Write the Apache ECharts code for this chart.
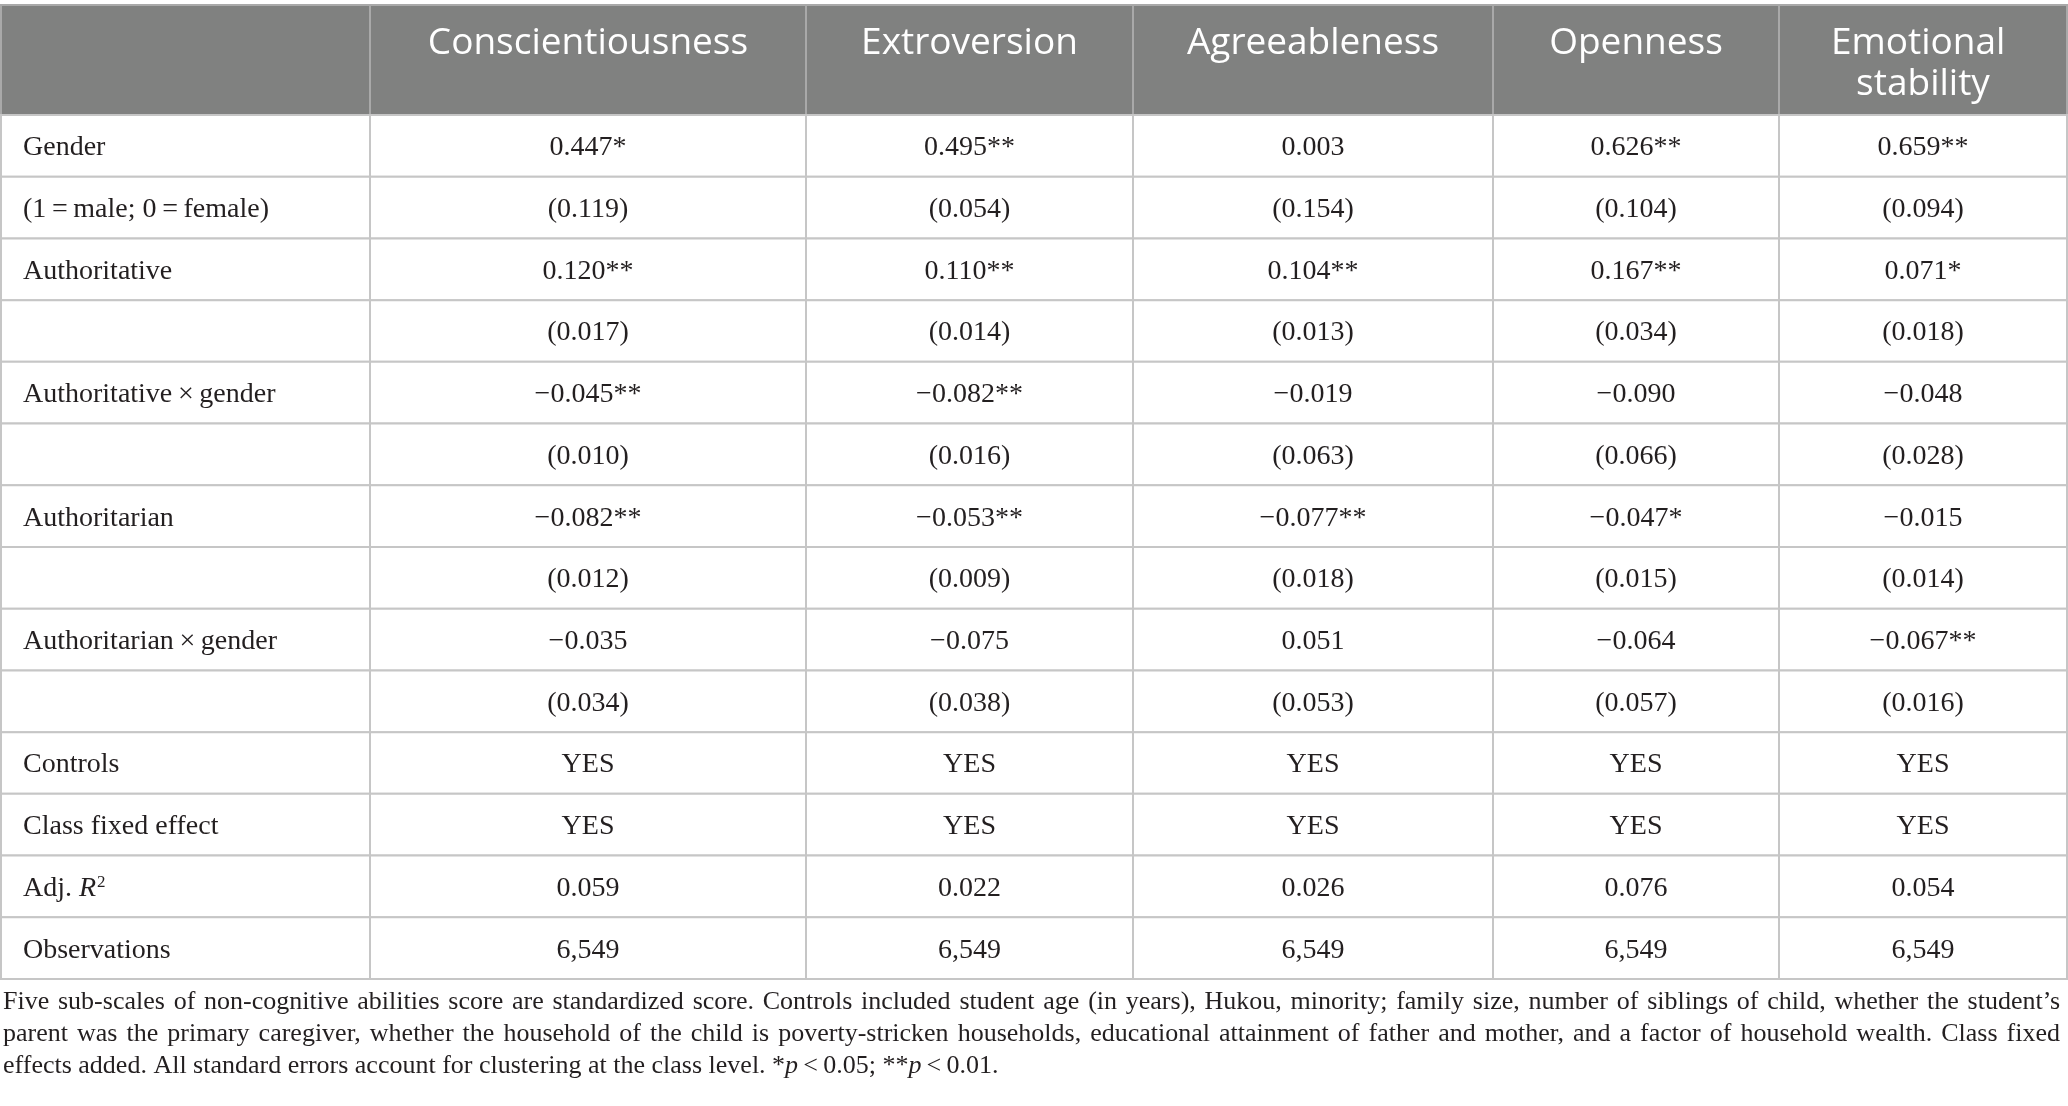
<!DOCTYPE html>
<html>
<head>
<meta charset="utf-8">
<title>Non-cognitive abilities regression table</title>
<script src="https://cdn.jsdelivr.net/npm/echarts@6/dist/echarts.min.js"></script>
<style>
  html, body { margin: 0; padding: 0; background: #fff; }
  #chart { width: 2068px; height: 1106px; }
</style>
</head>
<body>
<div id="chart"></div>
<script>
// Table data
const columns = ['Conscientiousness', 'Extroversion', 'Agreeableness', 'Openness', 'Emotional stability'];
const rowLabels = [
    'Gender',
    '(1\u2009=\u2009male; 0\u2009=\u2009female)',
    'Authoritative',
    '',
    'Authoritative\u2009×\u2009gender',
    '',
    'Authoritarian',
    '',
    'Authoritarian\u2009×\u2009gender',
    '',
    'Controls',
    'Class fixed effect',
    'Adj. {it|R}{sup|2}',
    'Observations'
];
const conscientiousness = ['0.447*', '(0.119)', '0.120**', '(0.017)', '\u22120.045**', '(0.010)', '\u22120.082**', '(0.012)', '\u22120.035', '(0.034)', 'YES', 'YES', '0.059', '6,549'];
const extroversion = ['0.495**', '(0.054)', '0.110**', '(0.014)', '\u22120.082**', '(0.016)', '\u22120.053**', '(0.009)', '\u22120.075', '(0.038)', 'YES', 'YES', '0.022', '6,549'];
const agreeableness = ['0.003', '(0.154)', '0.104**', '(0.013)', '\u22120.019', '(0.063)', '\u22120.077**', '(0.018)', '0.051', '(0.053)', 'YES', 'YES', '0.026', '6,549'];
const openness = ['0.626**', '(0.104)', '0.167**', '(0.034)', '\u22120.090', '(0.066)', '\u22120.047*', '(0.015)', '\u22120.064', '(0.057)', 'YES', 'YES', '0.076', '6,549'];
const emotionalStability = ['0.659**', '(0.094)', '0.071*', '(0.018)', '\u22120.048', '(0.028)', '\u22120.015', '(0.014)', '\u22120.067**', '(0.016)', 'YES', 'YES', '0.054', '6,549'];
const footnoteLines = [
    'Five sub-scales of non-cognitive abilities score are standardized score. Controls included student age (in years), Hukou, minority; family size, number of siblings of child, whether the student\u2019s',
    'parent was the primary caregiver, whether the household of the child is poverty-stricken households, educational attainment of father and mother, and a factor of household wealth. Class fixed',
    'effects added. All standard errors account for clustering at the class level. *{it|p}\u2009<\u20090.05; **{it|p}\u2009<\u20090.01.'
];

// Layout
const colWidths = [369, 436, 327, 360, 286, 288];
const colEdges = [0];
colWidths.forEach(w => colEdges.push(colEdges[colEdges.length - 1] + w));
const tableWidth = colEdges[colEdges.length - 1];

const serif = '"Liberation Serif", "DejaVu Serif", serif';
const sans = '"Open Sans", "Noto Sans", sans-serif';
const textColor = '#231f20';
const headerFill = '#808180';
const lineColor = '#c6c6c6';
const noteSize = 26;

// Build cells: column 0 holds the row labels
const valueColumns = [conscientiousness, extroversion, agreeableness, openness, emotionalStability];
const bodyCells = [];
const bodyTexts = [];
rowLabels.forEach((label, r) => {
    bodyCells.push([0, r]);
    bodyTexts.push(label);
    valueColumns.forEach((col, c) => {
        bodyCells.push([c + 1, r]);
        bodyTexts.push(col[r]);
    });
});
const headerCells = [[0, 0]];
const headerTexts = [''];
columns.forEach((name, c) => {
    headerCells.push([c + 1, 0]);
    headerTexts.push(name);
});

const richStyles = {
    it: { fontFamily: serif, fontSize: 28, fontStyle: 'italic', fill: textColor },
    sup: { fontFamily: serif, fontSize: 17, fill: textColor, verticalAlign: 'top', padding: [0, 0, 12, 1] }
};

function cellRect(api, c, r) {
    const p0 = api.coord([colEdges[c], r]);
    const p1 = api.coord([colEdges[c + 1], r]);
    const h = api.size([0, 1])[1];
    return { x: p0[0], y: p0[1] - h / 2, width: p1[0] - p0[0], height: h };
}

function renderBody(params, api) {
    const c = api.value(0);
    const r = api.value(1);
    const rect = cellRect(api, c, r);
    const text = bodyTexts[params.dataIndex];
    return {
        type: 'group',
        children: [
            {
                type: 'rect',
                shape: rect,
                style: { fill: '#fff', stroke: lineColor, lineWidth: 2 }
            },
            {
                type: 'text',
                style: {
                    text: text,
                    x: c === 0 ? rect.x + 22 : rect.x + rect.width / 2,
                    y: rect.y + rect.height / 2 + 2,
                    textAlign: c === 0 ? 'left' : 'center',
                    textVerticalAlign: 'middle',
                    fill: textColor,
                    fontFamily: serif,
                    fontSize: 28,
                    rich: richStyles
                }
            }
        ]
    };
}

function renderHeader(params, api) {
    const c = api.value(0);
    const r = api.value(1);
    const rect = cellRect(api, c, r);
    return {
        type: 'group',
        children: [
            {
                type: 'rect',
                shape: rect,
                style: { fill: headerFill, stroke: '#a9a9a9', lineWidth: 2 }
            },
            {
                type: 'text',
                style: {
                    text: headerTexts[params.dataIndex],
                    x: rect.x + rect.width / 2,
                    y: rect.y + 18,
                    width: rect.width - 30,
                    overflow: 'break',
                    textAlign: 'center',
                    textVerticalAlign: 'top',
                    lineHeight: 41,
                    fill: '#fff',
                    fontFamily: sans,
                    fontSize: 37
                }
            }
        ]
    };
}

// Footnote: first lines are justified to the table width, last line is ragged
const measureCtx = document.createElement('canvas').getContext('2d');
measureCtx.font = noteSize + 'px ' + serif;

function noteStyle(text) {
    return {
        text: text,
        textVerticalAlign: 'middle',
        fill: textColor,
        fontFamily: serif,
        fontSize: noteSize,
        rich: {
            it: { fontFamily: serif, fontSize: noteSize, fontStyle: 'italic', fill: textColor }
        }
    };
}

function justifiedLine(line, y, left, right) {
    const words = line.split(' ');
    const widths = words.map(w => measureCtx.measureText(w).width);
    const used = widths.reduce((a, b) => a + b, 0);
    const gap = (right - left - used) / (words.length - 1);
    let x = left;
    return words.map((w, i) => {
        const el = { type: 'text', x: x, y: y, style: noteStyle(w) };
        x += widths[i] + gap;
        return el;
    });
}

const footnoteGraphics = [];
footnoteLines.forEach((line, i) => {
    const y = 1002 + i * 32;
    if (i < footnoteLines.length - 1) {
        footnoteGraphics.push(...justifiedLine(line, y, 3, 2060));
    } else {
        footnoteGraphics.push({ type: 'text', x: 3, y: y, style: noteStyle(line) });
    }
});

const chart = echarts.init(document.getElementById('chart'), null, { renderer: 'canvas' });

const option = {
    backgroundColor: '#fff',
    animation: false,
    grid: [
        { left: 1, top: 5, width: tableWidth, height: 110 },
        { left: 1, top: 115, width: tableWidth, height: 864 }
    ],
    xAxis: [
        { gridIndex: 0, type: 'value', min: 0, max: tableWidth, show: false },
        { gridIndex: 1, type: 'value', min: 0, max: tableWidth, show: false }
    ],
    yAxis: [
        { gridIndex: 0, type: 'category', data: ['header'], show: false },
        { gridIndex: 1, type: 'category', data: rowLabels.map((_, i) => 'row' + i), inverse: true, show: false }
    ],
    graphic: footnoteGraphics,
    series: [
        {
            type: 'custom',
            xAxisIndex: 0,
            yAxisIndex: 0,
            renderItem: renderHeader,
            data: headerCells,
            clip: false
        },
        {
            type: 'custom',
            xAxisIndex: 1,
            yAxisIndex: 1,
            renderItem: renderBody,
            data: bodyCells,
            clip: false
        }
    ]
};

chart.setOption(option);
</script>
</body>
</html>
